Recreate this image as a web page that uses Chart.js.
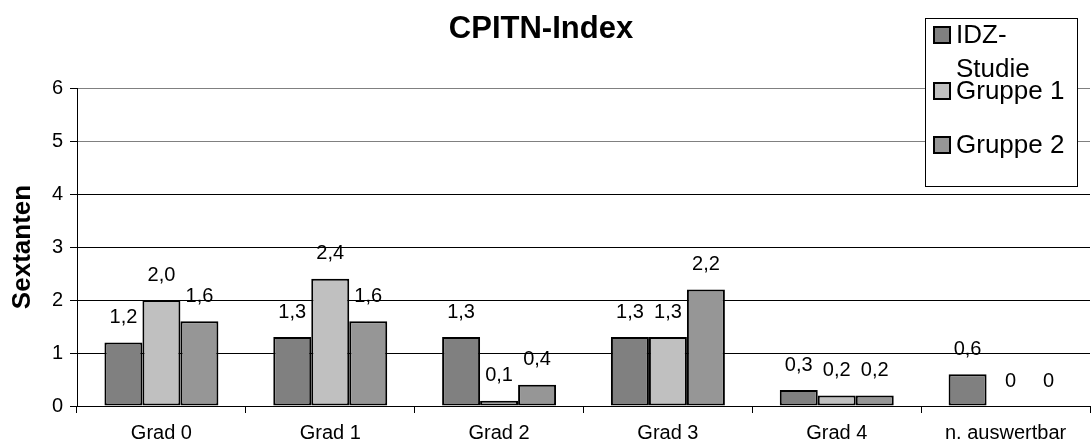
<!DOCTYPE html>
<html>
<head>
<meta charset="utf-8">
<script src="https://cdn.jsdelivr.net/npm/chart.js@4"></script>
<style>
  body { margin: 0; background: #fff; }
</style>
</head>
<body>
<canvas id="chart" width="1091" height="445"></canvas>
<script>
const categories = ["Grad 0", "Grad 1", "Grad 2", "Grad 3", "Grad 4", "n. auswertbar"];
const seriesNames = ["IDZ-Studie", "Gruppe 1", "Gruppe 2"];
const idzValues = [1.2, 1.3, 1.3, 1.3, 0.3, 0.6];
const gruppe1Values = [2.0, 2.4, 0.1, 1.3, 0.2, 0];
const gruppe2Values = [1.6, 1.6, 0.4, 2.2, 0.2, 0];
const colors = ["#808080", "#c0c0c0", "#969696"];
const FONT = "'Liberation Sans', Arial, sans-serif";

// labels with comma decimals, zeros shown as plain 0
function fmt(v) {
    return v === 0 ? "0" : v.toFixed(1).replace(".", ",");
}

const extras = {
    id: "extras",
    afterDatasetsDraw(chart) {
        const ctx = chart.ctx;
        ctx.save();
        ctx.fillStyle = "#000";
        ctx.textAlign = "center";
        ctx.textBaseline = "middle";
        ctx.font = "20px " + FONT;
        chart.data.datasets.forEach((ds, i) => {
            chart.getDatasetMeta(i).data.forEach((bar, j) => {
                const v = ds.data[j];
                const x = v === 0 ? bar.x + 5 : bar.x;
                ctx.fillText(fmt(v), x, bar.y - 25);
            });
        });

        // title
        ctx.font = "bold 31px " + FONT;
        ctx.textBaseline = "alphabetic";
        ctx.fillText("CPITN-Index", 541, 38);

        // legend box (first entry wraps like the original)
        ctx.fillStyle = "#fff";
        ctx.fillRect(925, 18, 152, 168);
        ctx.strokeStyle = "#000";
        ctx.lineWidth = 1;
        ctx.strokeRect(925.5, 18.5, 152, 168);
        ctx.font = "26px " + FONT;
        ctx.textAlign = "left";
        const baselines = [43, 99, 153];
        seriesNames.forEach((name, i) => {
            const b = baselines[i];
            ctx.fillStyle = colors[i];
            ctx.fillRect(934, b - 16, 16, 16);
            ctx.lineWidth = 2;
            ctx.strokeStyle = "#000";
            ctx.strokeRect(934, b - 16, 16, 16);
            ctx.fillStyle = "#000";
            if (i === 0) {
                ctx.fillText("IDZ-", 956, b);
                ctx.fillText("Studie", 956, 77);
            } else {
                ctx.fillText(name, 956, b);
            }
        });
        ctx.restore();
    }
};

const ctx = document.getElementById("chart").getContext("2d");
new Chart(ctx, {
    type: "bar",
    data: {
        labels: categories,
        datasets: [
            { label: seriesNames[0], data: idzValues },
            { label: seriesNames[1], data: gruppe1Values },
            { label: seriesNames[2], data: gruppe2Values }
        ].map((d, i) => Object.assign(d, {
            backgroundColor: colors[i],
            borderColor: "#000",
            borderWidth: 2,
            borderSkipped: false,
            barPercentage: 1,
            categoryPercentage: 0.675
        }))
    },
    options: {
        responsive: false,
        animation: false,
        layout: { padding: { top: 88, right: 1, left: 0, bottom: 0 } },
        plugins: { legend: { display: false }, title: { display: false }, tooltip: { enabled: false } },
        scales: {
            x: {
                grid: { offset: true, drawOnChartArea: false, color: "#000", tickLength: 7 },
                border: { color: "#000", width: 1 },
                ticks: { color: "#000", font: { size: 20, family: FONT }, padding: 8, maxRotation: 0, autoSkip: false },
                afterFit(scale) { scale.height = 39; }
            },
            y: {
                min: 0, max: 6,
                ticks: { stepSize: 1, color: "#000", font: { size: 20, family: FONT }, padding: 7 },
                grid: {
                    color: c => (c.tick && c.tick.value >= 5 ? "#808080" : "#000"),
                    tickColor: "#000",
                    tickLength: 7
                },
                border: { color: "#000", width: 1 },
                title: { display: true, text: "Sextanten", color: "#000", font: { size: 26, weight: "bold", family: FONT }, padding: { top: 7, bottom: 0 } },
                afterFit(scale) { scale.width = 77; }
            }
        }
    },
    plugins: [extras]
});
</script>
</body>
</html>
